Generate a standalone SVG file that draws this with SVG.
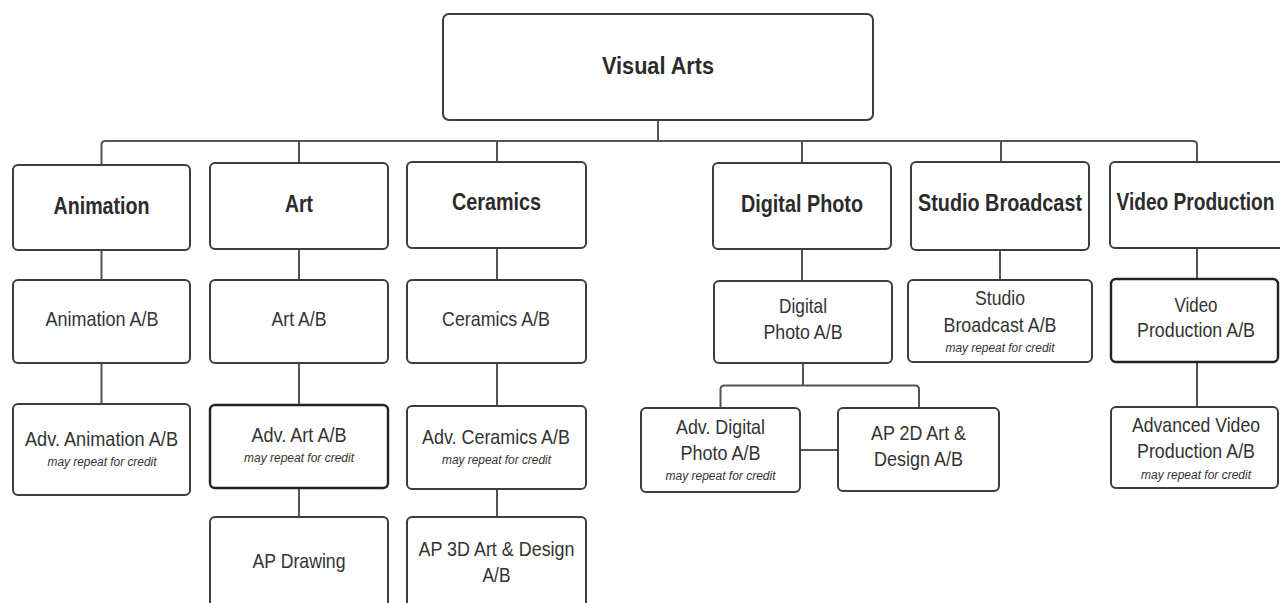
<svg xmlns="http://www.w3.org/2000/svg" width="1280" height="603" viewBox="0 0 1280 603">
<style>
.box{fill:#fff;stroke:#3d3d3d;stroke-width:2}
.dark{stroke:#222;stroke-width:2.4}
.h{font-family:"Liberation Sans",Arial,sans-serif;font-weight:bold;font-size:23px;fill:#2b2b2b;text-anchor:middle}
.t{font-family:"Liberation Sans",Arial,sans-serif;font-size:21px;fill:#333;text-anchor:middle}
.i{font-family:"Liberation Sans",Arial,sans-serif;font-style:italic;font-size:12.5px;fill:#333;text-anchor:middle}
.c{fill:none;stroke:#555;stroke-width:2}
</style>
<rect width="1280" height="603" fill="#fff"/>
<g id="connectors">
<path class="c" d="M658,120 V141"/>
<path class="c" d="M101.5,165 V145 Q101.5,141 105.5,141 H1193 Q1197,141 1197,145 V162"/>
<path class="c" d="M299,141 V163 M497,141 V162 M802,141 V163 M1001,141 V162"/>
<path class="c" d="M101.5,250 V280 M299,249 V280 M497,248 V280 M802,249 V281 M1000,250 V280 M1197,248 V279"/>
<path class="c" d="M101.5,363 V404 M299,363 V405 M299,488 V517 M497,363 V406 M497,489 V517 M1197,362 V407"/>
<path class="c" d="M803,363 V385.5 M720.5,408 V389.5 Q720.5,385.5 724.5,385.5 H915 Q919,385.5 919,389.5 V408"/>
<path class="c" d="M800,450 H838"/>
</g>
<g id="visual-arts"><rect class="box" x="443" y="14" width="430" height="106" rx="6"/><text class="h" x="658" y="74" font-size="26" textLength="112" lengthAdjust="spacingAndGlyphs">Visual Arts</text></g>
<g id="animation"><rect class="box" x="13" y="165" width="177" height="85" rx="5"/><text class="h" x="101.5" y="214" textLength="96" lengthAdjust="spacingAndGlyphs">Animation</text></g>
<g id="art"><rect class="box" x="210" y="163" width="178" height="86" rx="5"/><text class="h" x="299" y="212" textLength="28" lengthAdjust="spacingAndGlyphs">Art</text></g>
<g id="ceramics"><rect class="box" x="407" y="162" width="179" height="86" rx="5"/><text class="h" x="496.5" y="210" textLength="89" lengthAdjust="spacingAndGlyphs">Ceramics</text></g>
<g id="digital-photo"><rect class="box" x="713" y="163" width="178" height="86" rx="5"/><text class="h" x="802" y="211.5" textLength="122" lengthAdjust="spacingAndGlyphs">Digital Photo</text></g>
<g id="studio-broadcast"><rect class="box" x="911" y="162" width="178" height="88" rx="5"/><text class="h" x="1000" y="210.5" textLength="164" lengthAdjust="spacingAndGlyphs">Studio Broadcast</text></g>
<g id="video-production"><rect class="box" x="1110" y="162" width="178" height="86" rx="5"/><text class="h" x="1195.5" y="210" textLength="158" lengthAdjust="spacingAndGlyphs">Video Production</text></g>
<g id="animation-ab"><rect class="box" x="13" y="280" width="177" height="83" rx="5"/><text class="t" x="102" y="326" textLength="113" lengthAdjust="spacingAndGlyphs">Animation A/B</text></g>
<g id="art-ab"><rect class="box" x="210" y="280" width="178" height="83" rx="5"/><text class="t" x="299" y="326" textLength="55" lengthAdjust="spacingAndGlyphs">Art A/B</text></g>
<g id="ceramics-ab"><rect class="box" x="407" y="280" width="179" height="83" rx="5"/><text class="t" x="496" y="326" textLength="108" lengthAdjust="spacingAndGlyphs">Ceramics A/B</text></g>
<g id="digital-photo-ab"><rect class="box" x="714" y="281" width="178" height="82" rx="5"/><text class="t" x="803" y="313" textLength="48" lengthAdjust="spacingAndGlyphs">Digital</text><text class="t" x="803" y="339" textLength="79" lengthAdjust="spacingAndGlyphs">Photo A/B</text></g>
<g id="studio-broadcast-ab"><rect class="box" x="908" y="280" width="184" height="82" rx="5"/><text class="t" x="1000" y="305" textLength="50" lengthAdjust="spacingAndGlyphs">Studio</text><text class="t" x="1000" y="331.5" textLength="113" lengthAdjust="spacingAndGlyphs">Broadcast A/B</text><text class="i" x="1000" y="351.5" textLength="109" lengthAdjust="spacingAndGlyphs">may repeat for credit</text></g>
<g id="video-production-ab"><rect class="box dark" x="1111" y="279" width="167" height="83" rx="5"/><text class="t" x="1196" y="311.5" textLength="43" lengthAdjust="spacingAndGlyphs">Video</text><text class="t" x="1196" y="336.5" textLength="118" lengthAdjust="spacingAndGlyphs">Production A/B</text></g>
<g id="adv-animation-ab"><rect class="box" x="13" y="404" width="177" height="91" rx="5"/><text class="t" x="101.5" y="445.5" textLength="153" lengthAdjust="spacingAndGlyphs">Adv. Animation A/B</text><text class="i" x="102" y="465.5" textLength="109" lengthAdjust="spacingAndGlyphs">may repeat for credit</text></g>
<g id="adv-art-ab"><rect class="box dark" x="210" y="405" width="178" height="83" rx="5"/><text class="t" x="299" y="441.5" textLength="95" lengthAdjust="spacingAndGlyphs">Adv. Art A/B</text><text class="i" x="299" y="461.5" textLength="110" lengthAdjust="spacingAndGlyphs">may repeat for credit</text></g>
<g id="adv-ceramics-ab"><rect class="box" x="407" y="406" width="179" height="83" rx="5"/><text class="t" x="496" y="443.5" textLength="148" lengthAdjust="spacingAndGlyphs">Adv. Ceramics A/B</text><text class="i" x="496.5" y="463.5" textLength="109" lengthAdjust="spacingAndGlyphs">may repeat for credit</text></g>
<g id="ap-drawing"><rect class="box" x="210" y="517" width="178" height="100" rx="5"/><text class="t" x="299" y="568" textLength="93" lengthAdjust="spacingAndGlyphs">AP Drawing</text></g>
<g id="ap-3d-art-design"><rect class="box" x="407" y="517" width="179" height="100" rx="5"/><text class="t" x="496.5" y="556" textLength="156" lengthAdjust="spacingAndGlyphs">AP 3D Art &amp; Design</text><text class="t" x="496.5" y="581.5" textLength="28" lengthAdjust="spacingAndGlyphs">A/B</text></g>
<g id="adv-digital-photo-ab"><rect class="box" x="641" y="408" width="159" height="84" rx="5"/><text class="t" x="720.5" y="433.5" textLength="89" lengthAdjust="spacingAndGlyphs">Adv. Digital</text><text class="t" x="720.5" y="459.5" textLength="80" lengthAdjust="spacingAndGlyphs">Photo A/B</text><text class="i" x="720.5" y="480" textLength="110" lengthAdjust="spacingAndGlyphs">may repeat for credit</text></g>
<g id="ap-2d-art-design"><rect class="box" x="838" y="408" width="161" height="83" rx="5"/><text class="t" x="918.5" y="440" textLength="95" lengthAdjust="spacingAndGlyphs">AP 2D Art &amp;</text><text class="t" x="918.5" y="466" textLength="89" lengthAdjust="spacingAndGlyphs">Design A/B</text></g>
<g id="advanced-video-production-ab"><rect class="box" x="1111" y="407" width="167" height="81" rx="5"/><text class="t" x="1196" y="431.5" textLength="128" lengthAdjust="spacingAndGlyphs">Advanced Video</text><text class="t" x="1196" y="457.5" textLength="118" lengthAdjust="spacingAndGlyphs">Production A/B</text><text class="i" x="1196" y="478.5" textLength="110" lengthAdjust="spacingAndGlyphs">may repeat for credit</text></g>
</svg>
